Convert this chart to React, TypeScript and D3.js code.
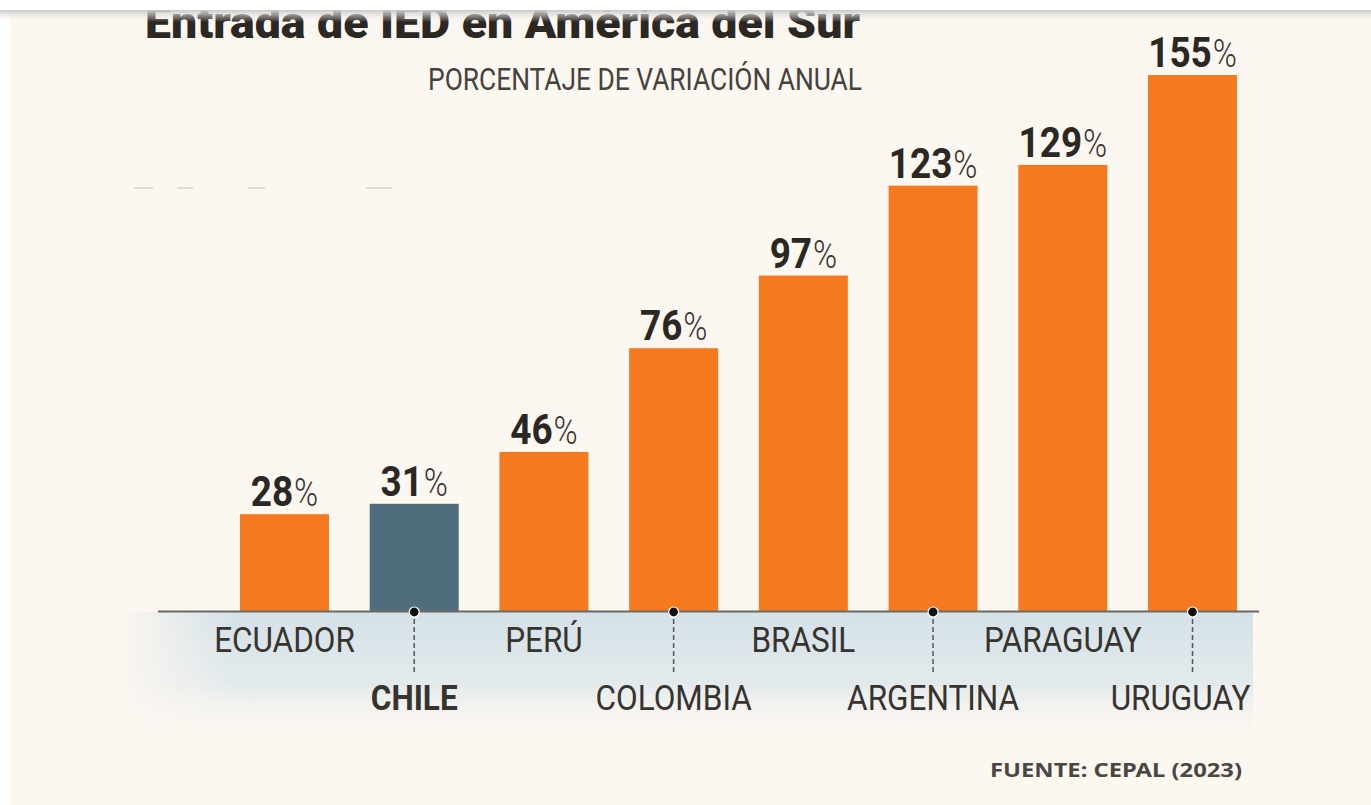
import React from "react";
import * as d3 from "d3";

const countries = ["ECUADOR", "CHILE", "PERÚ", "COLOMBIA", "BRASIL", "ARGENTINA", "PARAGUAY", "URUGUAY"];
const values = [28, 31, 46, 76, 97, 123, 129, 155];
const highlight = "CHILE";
const title = "Entrada de IED en América del Sur";
const subtitle = "PORCENTAJE DE VARIACIÓN ANUAL";
const source = "FUENTE: CEPAL (2023)";

const W = 1371;
const H = 805;
const BG = "#fcf7f1";
const ORANGE = "#f57a1f";
const SLATE = "#4f6d7c";
const INK = "#2b2723";

export default function App() {
  const baseline = 611;
  const x = d3.scaleBand<string>().domain(countries).range([240, 1237]).paddingInner(0.314).paddingOuter(0);
  const y = d3.scaleLinear().domain([0, d3.max(values) as number]).range([baseline, 75]);
  const bw = x.bandwidth();

  return (
    <div style={{ position: "absolute", left: 0, top: 0 }}>
      <svg width={W} height={H} style={{ display: "block" }}>
        <defs>
          <linearGradient id="bandV" x1="0" y1="0" x2="0" y2="1">
            <stop offset="0" stopColor="#d4e1e7" stopOpacity="1" />
            <stop offset="0.55" stopColor="#dfe8eb" stopOpacity="0.9" />
            <stop offset="1" stopColor={BG} stopOpacity="0" />
          </linearGradient>
          <linearGradient id="bandH" x1="0" y1="0" x2="1" y2="0">
            <stop offset="0" stopColor="#fff" stopOpacity="0" />
            <stop offset="0.1" stopColor="#fff" stopOpacity="1" />
            <stop offset="1" stopColor="#fff" stopOpacity="1" />
          </linearGradient>
          <mask id="bandMask">
            <rect x={118} y={612} width={1135} height={130} fill="url(#bandH)" />
          </mask>
          <linearGradient id="topShadow" x1="0" y1="0" x2="0" y2="1">
            <stop offset="0" stopColor="#c9c9c9" stopOpacity="1" />
            <stop offset="1" stopColor={BG} stopOpacity="0" />
          </linearGradient>
        </defs>

        <rect x={0} y={0} width={W} height={H} fill={BG} />
        <rect x={0} y={0} width={10} height={H} fill="#ffffff" />

        {/* title (cropped by top band) */}
        <text
          x={145}
          y={38}
          fontFamily="Roboto, sans-serif"
          fontWeight={900}
          fontSize={44}
          fill={INK}
          textLength={715}
          lengthAdjust="spacingAndGlyphs"
        >
          {title}
        </text>
        <text
          x={862}
          y={90}
          textAnchor="end"
          fontFamily="Roboto, sans-serif"
          fontWeight={400}
          fontSize={31}
          fill="#47423d"
          textLength={434}
          lengthAdjust="spacingAndGlyphs"
        >
          {subtitle}
        </text>

        {/* faint dashes */}
        <g stroke="#e4dcd2" strokeWidth={2}>
          <line x1={134} x2={153} y1={188} y2={188} />
          <line x1={177} x2={193} y1={188} y2={188} />
          <line x1={248} x2={265} y1={188} y2={188} />
          <line x1={366} x2={392} y1={188} y2={188} />
        </g>

        {/* axis band */}
        <rect x={118} y={612} width={1135} height={130} fill="url(#bandV)" mask="url(#bandMask)" />

        {/* bars */}
        {countries.map((c, i) => (
          <rect
            key={c}
            x={x(c)}
            y={y(values[i])}
            width={bw}
            height={baseline - y(values[i])}
            fill={c === highlight ? SLATE : ORANGE}
          />
        ))}

        {/* baseline */}
        <line x1={158} x2={1259} y1={baseline + 0.5} y2={baseline + 0.5} stroke="#6e6862" strokeWidth={2} />

        {/* value labels */}
        {countries.map((c, i) => {
          const cx = (x(c) as number) + bw / 2;
          return (
            <g key={c} transform={`translate(${cx},${y(values[i]) - 8}) scale(0.86,1)`}>
              <text textAnchor="middle" fontFamily="Roboto, sans-serif" fill={INK}>
                <tspan fontWeight={700} fontSize={43}>{values[i]}</tspan>
                <tspan fontWeight={300} fontSize={38} fill="#3a3530" dx={1}>%</tspan>
              </text>
            </g>
          );
        })}

        {/* category labels */}
        {countries.map((c, i) => {
          const cx = (x(c) as number) + bw / 2;
          const lower = i % 2 === 1;
          const last = i === countries.length - 1;
          return (
            <g key={c}>
              {lower && (
                <>
                  <line x1={cx} x2={cx} y1={baseline} y2={672} stroke="#555" strokeWidth={1.5} strokeDasharray="5 3" />
                  <circle cx={cx} cy={baseline + 1} r={5} fill="#111" stroke="#fff" strokeWidth={1.2} />
                </>
              )}
              <g transform={`translate(${last ? cx - 12 : cx},${lower ? 710 : 652}) scale(0.9,1)`}>
                <text
                  textAnchor="middle"
                  fontFamily="Roboto, sans-serif"
                  fontWeight={c === highlight ? 700 : 400}
                  fontSize={35}
                  fill="#37332e"
                >
                  {c}
                </text>
              </g>
            </g>
          );
        })}

        {/* source */}
        <text
          x={1242}
          y={777}
          textAnchor="end"
          fontFamily="'Noto Sans', sans-serif"
          fontWeight={700}
          fontSize={20}
          fill="#4a4743"
          textLength={252}
          lengthAdjust="spacingAndGlyphs"
        >
          {source}
        </text>

        {/* top band */}
        <rect x={0} y={0} width={W} height={10} fill="#ffffff" />
        <rect x={0} y={10} width={W} height={12} fill="url(#topShadow)" />
      </svg>
    </div>
  );
}
